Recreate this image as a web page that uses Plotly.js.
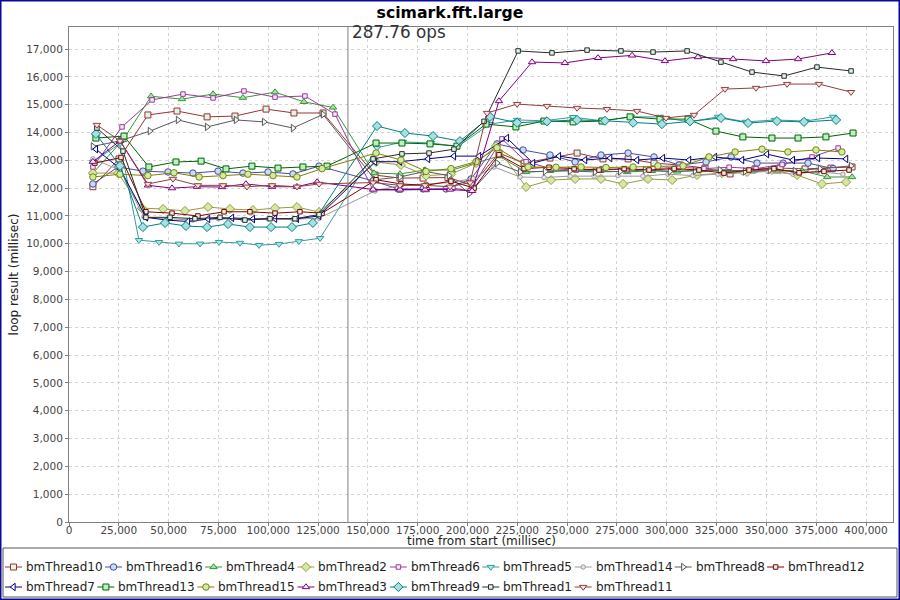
<!DOCTYPE html>
<html><head><meta charset="utf-8">
<script src="https://cdn.plot.ly/plotly-3.0.1.min.js"></script>
<style>html,body{margin:0;padding:0;background:#fff}#chart{width:900px;height:600px}</style>
</head><body><div id="chart"></div>
<script>
// ---------------- data ----------------
const chartTitle = 'scimark.fft.large';
const xTitle = 'time from start (millisec)';
const yTitle = 'loop result (millisec)';
const markerTime = 140000;
const markerLabel = '287.76 ops';

const seriesNames = ['bmThread10','bmThread16','bmThread4','bmThread2','bmThread6','bmThread5','bmThread14','bmThread8',
                     'bmThread12','bmThread7','bmThread13','bmThread15','bmThread3','bmThread9','bmThread1','bmThread11'];

const t10_x = [12000,25100,39600,54200,69300,83300,98900,112900,127500,153600,166100,177700,190200,202300,215800,228400,241400,255000,268000,280600,293600,306700,319200,331800,344300,356900,369400,382400,393000];
const t10_y = [12050,13050,14630,14770,14560,14590,14840,14700,14700,12470,12360,12360,12380,12110,13260,12900,13080,13260,13050,13050,12900,12830,12720,12510,12690,12720,12690,12720,12760];

const t16_x = [12000,24600,37100,49700,62200,74800,87300,99900,112400,125500,152600,165100,177700,189200,201800,214800,227900,241400,254000,267000,280600,293600,306200,319700,332300,345300,358400,370900,383500];
const t16_y = [12150,12760,12610,12580,12540,12610,12540,12580,12510,12790,12260,11970,11970,11970,12330,13590,13370,13190,12940,13190,13260,13120,12830,12940,13120,12900,12900,12900,12700];

const t4_x = [12000,27100,41200,56700,72300,87300,103400,117900,132500,153100,166100,178700,192200,215800,229400,241400,254000,266500,280100,292600,305200,317700,330300,342800,355400,367900,380500,393000];
const t4_y = [12540,13730,15300,15200,15380,15250,15450,15100,14900,12540,12510,12650,12650,13150,12580,12620,12650,12620,12580,12620,12600,12650,12650,12600,12600,12620,12400,12400];

const t2_x = [12000,24600,36600,47200,58200,69800,80800,92300,103400,114400,125500,154100,166600,179200,191700,204300,214300,229400,241900,254000,267000,278100,290600,302700,315200,327700,340300,352800,365400,377900,390000];
const t2_y = [12540,12540,11280,11250,11180,11320,11250,11210,11280,11320,11140,12940,12830,12450,12500,12900,13510,12040,12290,12330,12330,12150,12330,12290,12470,12540,12580,12650,12470,12150,12220];

const t6_x = [12000,26600,41700,57200,72300,87800,103400,118400,133500,152600,166100,179700,192700,201300,217300,229400,241900,254500,267500,280100,293100,306200,318700,331300,344800,357900,372900,386000];
const t6_y = [12760,14200,15170,15380,15240,15490,15270,15310,14660,11930,11930,11950,12000,11900,13770,12950,12700,12650,12700,12650,12700,12750,12700,12750,12700,12850,13120,13440];

const t5_x = [12000,25600,35100,45200,55200,65800,75300,85800,95400,105400,115400,126000,154600,167600,181700,195200,211300,224900,238400,253000,267500,282100,296600,311200,325700,339800,354300,369400,383500];
const t5_y = [12940,13600,10130,10060,10000,10000,10060,10030,9950,9990,10090,10200,13450,13660,13620,13500,14300,14450,14420,14550,14420,14560,14560,14380,14560,14380,14450,14410,14560];

const t14_x = [12000,25600,37600,49700,62200,74800,87300,99900,112400,125500,153600,166600,179200,191700,202800,213300,226400,238400,251500,263500,275500,288000,300600,313100,325700,338200,350800,363300,375900,388400];
const t14_y = [13050,12650,10960,10900,10850,10900,10870,10900,10880,10920,11900,12100,12150,12200,12350,12760,12400,12380,12430,12430,12450,12430,12500,12450,12500,12550,12600,12500,12600,12500];

const t8_x = [12000,25600,40600,54700,69300,83800,97900,112400,127500,153600,166100,178700,190700,200800,214800,226400,238900,251500,264000,276600,289100,301600,314200,326700,339300,351800,364300,376900,392500];
const t8_y = [13500,13700,14050,14450,14200,14450,14380,14160,14650,12300,12400,12600,12450,11800,12900,12580,12600,12620,12580,12600,12650,12600,12620,12650,12600,12650,12620,12700,12800];

const t12_x = [13000,26100,38600,51700,64700,77800,90800,103400,115900,127000,154100,166600,179200,191700,203300,215800,228400,240900,253500,266000,278600,291100,303700,316200,328700,341300,353800,366400,378900,391500];
const t12_y = [12900,13100,11150,11100,11000,11150,11150,11100,11150,11100,12300,12150,12100,12250,12000,13200,12700,12750,12700,12650,12700,12650,12700,12650,12540,12650,12700,12550,12600,12650];

const t7_x = [13500,25600,38600,49200,59700,69800,81800,92300,103400,114400,125500,153600,166100,180200,193200,205800,219800,232900,245900,259000,271600,285100,298100,311200,324200,337800,350300,363300,375900,390000];
const t7_y = [13400,12700,10950,10850,10800,10890,10930,10890,10900,10900,11000,12950,12950,13050,13150,13150,13800,12900,13150,13010,13080,13010,13080,13010,13120,13010,13220,13010,13080,13050];

const t13_x = [13500,27600,40100,53700,66300,78800,91800,104900,117400,129500,154100,167100,181200,194700,209300,224300,238400,253000,267500,281600,296600,310700,324700,338200,352800,365900,379900,393500];
const t13_y = [13800,13870,12760,12940,12970,12690,12790,12720,12760,12790,13620,13620,13590,13510,14300,14200,14410,14380,14410,14560,14480,14480,14050,13840,13800,13800,13840,13980];

const t15_x = [12000,25600,39600,52700,65300,77300,89800,102400,114400,127000,154100,166600,179200,191700,204300,214800,230400,244400,257000,269500,283100,295600,308200,321200,334300,347800,360800,374900,387900];
const t15_y = [12400,12500,12450,12550,12400,12450,12500,12450,12400,12700,13260,13010,12600,12700,12950,13450,12760,12750,12760,12740,12760,12800,12800,13120,13300,13400,13300,13370,13300];

const t3_x = [12000,25600,39600,51700,64200,76800,88800,101900,114400,124500,152600,166100,178700,191200,202300,215800,232400,248900,265500,282600,299100,315700,333300,349800,365900,382900];
const t3_y = [12950,13700,12100,12000,12050,12040,12150,12050,12050,12220,11950,11950,11950,11950,11900,15130,16530,16500,16680,16770,16570,16710,16640,16570,16640,16860];

const t9_x = [13500,25600,37100,48200,58700,69300,79800,90800,101400,111900,122400,154600,168600,182700,196200,211300,224900,239900,255000,269000,283100,297600,311700,327200,340800,355300,368900,385000];
const t9_y = [13950,12800,10600,10750,10640,10600,10710,10600,10600,10600,10750,14230,13980,13870,13690,14560,14350,14400,14450,14420,14350,14300,14400,14520,14340,14410,14380,14450];

const t1_x = [14000,27100,38600,50700,63200,75800,88300,100900,113400,125500,152600,167100,180700,193200,208300,225400,242400,260000,277000,293100,310200,327200,342800,358900,375400,392500];
const t1_y = [14160,13330,10950,10950,10900,10950,10850,10900,10900,11050,13050,13230,13260,13400,14400,16930,16860,16960,16930,16890,16930,16530,16170,16030,16350,16210];

const t11_x = [14000,25600,39600,52200,64700,77300,89300,101900,114400,125500,152600,166100,178700,191200,201300,209800,224900,239900,255000,270000,285100,299600,313700,329200,344800,360400,376400,392500];
const t11_y = [14270,13700,12150,12330,12100,12100,12050,12100,12050,12150,12200,12100,12100,12050,12200,14700,15020,14950,14880,14840,14770,14520,14630,15560,15600,15740,15740,15450];

const seriesX = [t10_x,t16_x,t4_x,t2_x,t6_x,t5_x,t14_x,t8_x,t12_x,t7_x,t13_x,t15_x,t3_x,t9_x,t1_x,t11_x];
const seriesY = [t10_y,t16_y,t4_y,t2_y,t6_y,t5_y,t14_y,t8_y,t12_y,t7_y,t13_y,t15_y,t3_y,t9_y,t1_y,t11_y];

// ---------------- styles ----------------
const lineColors = ['#993333','#4b4b9b','#3a923a','#9a9a3a','#9a3a9a','#3a9a9a','#9a9a9a','#5a5a5a',
                    '#800000','#000080','#006400','#808000','#800080','#008080','#2a2a2a','#8f4040'];
const fillColors = ['#d9f7e6','#c5dcf3','#a3e3a3','#d3e8a6','#f4ecf4','#a3ecec','#e6e6e6','#eef6f1',
                    '#d9f7e6','#ffffff','#bff0c5','#cbeea6','#f6eef6','#a8e0e0','#d9f7e6','#f7e3e3'];
const symbols = ['square','circle','triangle-up','diamond','square','triangle-down','circle','triangle-right',
                 'square','triangle-left','square','circle','triangle-up','diamond','square','triangle-down'];
const sizes = [6,6.5,6.5,7,4.5,6.5,4.5,6.5,4.5,6.5,6,6.5,6.5,7,4.5,6.5];

const W = 900, H = 600;
const plotL = 69, plotR = 893, plotT = 27, plotB = 522;
const FONT = 'DejaVu Sans';

const traces = [];
seriesNames.forEach((name, i) => {
  traces.push({
    type: 'scatter', mode: 'lines+markers', name: name,
    x: seriesX[i], y: seriesY[i], xaxis: 'x', yaxis: 'y',
    line: {color: lineColors[i], width: 1},
    marker: {symbol: symbols[i], size: sizes[i], color: fillColors[i], line: {color: lineColors[i], width: 1}},
    cliponaxis: true, hoverinfo: 'x+y+name'
  });
});

// ---------------- custom legend (flow layout like the original) ----------------
const annotations = [];
const ctx = document.createElement('canvas').getContext('2d');
ctx.font = '12px "' + FONT + '"';
const rowY = [567, 587];
let lx = 5, row = 0;
seriesNames.forEach((name, i) => {
  const w = ctx.measureText(name).width;
  const itemW = 19 + w + 4.5;
  if (lx + itemW > 895) { row++; lx = 5; }
  const yc = rowY[row];
  traces.push({
    type: 'scatter', mode: 'lines+markers', xaxis: 'x2', yaxis: 'y2', showlegend: false, hoverinfo: 'skip',
    x: [lx, lx + 8.5, lx + 17], y: [yc, yc, yc], cliponaxis: false,
    line: {color: lineColors[i], width: 1},
    marker: {symbol: symbols[i], size: sizes[i], color: fillColors[i], opacity: [0, 1, 0], line: {color: lineColors[i], width: 1}}
  });
  annotations.push({xref: 'x2', yref: 'y2', x: lx + 19, y: yc, xanchor: 'left', yanchor: 'middle',
    text: name, showarrow: false, font: {family: FONT, size: 12, color: '#222'}});
  lx += itemW;
});

annotations.push({xref: 'x', yref: 'paper', x: markerTime, y: 1 - 20 / H, xanchor: 'left', yanchor: 'top',
  xshift: 2, text: markerLabel, showarrow: false, font: {family: FONT, size: 16.8, color: '#333'}});

// x-axis title placed like the original (just under the tick labels)
annotations.push({xref: 'paper', yref: 'paper', x: (plotL + plotR) / 2 / W, y: 1 - 541 / H, xanchor: 'center', yanchor: 'middle',
  text: xTitle, showarrow: false, font: {family: FONT, size: 12, color: '#222'}});

const axisCommon = {
  showgrid: true, gridcolor: '#d4d4d4', griddash: '3px,3px', gridwidth: 1,
  showline: true, linecolor: '#808080', linewidth: 1, mirror: true,
  ticks: 'outside', ticklen: 3, tickcolor: '#808080', zeroline: false,
  tickfont: {family: FONT, size: 10.5, color: '#444'}, tickformat: ',d'
};

const layout = {
  width: W, height: H, margin: {l: 0, r: 0, t: 0, b: 0, pad: 0},
  paper_bgcolor: '#ffffff', plot_bgcolor: 'rgba(0,0,0,0)', showlegend: false,
  title: {text: '<b>' + chartTitle + '</b>', x: 0.5, xanchor: 'center', y: 1 - 13 / H, yanchor: 'middle',
          font: {family: FONT, size: 15.7, color: '#000'}},
  xaxis: Object.assign({}, axisCommon, {
    domain: [plotL / W, plotR / W], range: [0, (plotR - plotL) * 400000 / 797], tick0: 0, dtick: 25000, anchor: 'y',
    ticklabelstandoff: -5
  }),
  yaxis: Object.assign({}, axisCommon, {
    domain: [1 - plotB / H, 1 - plotT / H], range: [0, (plotB - plotT) * 17000 / 473], tick0: 0, dtick: 1000, anchor: 'x',
    title: {text: yTitle, font: {family: FONT, size: 12, color: '#222'}, standoff: 4}
  }),
  xaxis2: {domain: [0, 1], range: [0, W], visible: false, anchor: 'y2', fixedrange: true},
  yaxis2: {domain: [0, 1], range: [H, 0], visible: false, anchor: 'x2', fixedrange: true},
  shapes: [
    {type: 'line', xref: 'x', yref: 'paper', x0: markerTime, x1: markerTime, y0: 1 - plotB / H, y1: 1 - plotT / H,
     line: {color: '#808080', width: 1}},
    {type: 'rect', xref: 'paper', yref: 'paper', x0: 3 / W, x1: 897 / W, y0: 1 - 597 / H, y1: 1 - 548 / H,
     line: {color: '#555555', width: 1}, fillcolor: 'rgba(0,0,0,0)'},
    {type: 'rect', xref: 'paper', yref: 'paper', x0: 0, x1: 1, y0: 0, y1: 1,
     line: {color: '#0a0a9a', width: 3}, fillcolor: 'rgba(0,0,0,0)'}
  ],
  annotations: annotations
};

Plotly.newPlot('chart', traces, layout, {displayModeBar: false, staticPlot: true});
</script></body></html>
